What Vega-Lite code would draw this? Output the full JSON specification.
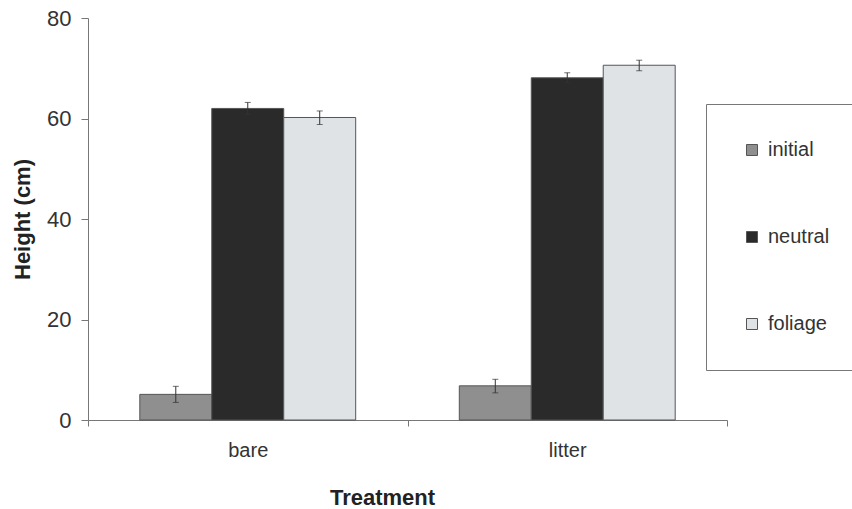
{
  "$schema": "https://vega.github.io/schema/vega-lite/v6.json",
  "width": 639,
  "height": 402,
  "autosize": "none",
  "padding": {"left": 88, "top": 18, "right": 125, "bottom": 89},
  "background": "white",
  "config": {
    "view": {"stroke": null},
    "font": "Liberation Sans",
    "axis": {"domainColor": "#777777", "tickColor": "#777777", "grid": false, "labelColor": "#333333", "titleColor": "#222222"}
  },
  "data": {
    "values": [
      {"Treatment": "bare", "Group": "initial", "Height": 5.1, "lo": 3.5, "hi": 6.7},
      {"Treatment": "bare", "Group": "neutral", "Height": 62.0, "lo": 60.8, "hi": 63.2},
      {"Treatment": "bare", "Group": "foliage", "Height": 60.2, "lo": 58.8, "hi": 61.5},
      {"Treatment": "litter", "Group": "initial", "Height": 6.8, "lo": 5.4, "hi": 8.1},
      {"Treatment": "litter", "Group": "neutral", "Height": 68.1, "lo": 67.1, "hi": 69.1},
      {"Treatment": "litter", "Group": "foliage", "Height": 70.6, "lo": 69.5, "hi": 71.6}
    ]
  },
  "encoding": {
    "x": {
      "field": "Treatment", "type": "nominal", "sort": ["bare", "litter"],
      "scale": {"paddingInner": 0, "paddingOuter": 0},
      "axis": {"labelAngle": 0, "labelFontSize": 20, "labelPadding": 14, "tickBand": "extent", "tickSize": 6, "title": "Treatment", "titleFontSize": 22, "titleFontWeight": "bold", "titlePadding": 27, "titleX": 294}
    },
    "xOffset": {"field": "Group", "type": "nominal", "sort": ["initial", "neutral", "foliage"], "scale": {"paddingInner": 0, "paddingOuter": 0.72}}
  },
  "layer": [
    {
      "mark": {"type": "bar", "stroke": "#555555", "strokeWidth": 1},
      "encoding": {
        "y": {
          "field": "Height", "type": "quantitative",
          "scale": {"domain": [0, 80]},
          "axis": {"values": [0, 20, 40, 60, 80], "labelFontSize": 22, "labelPadding": 10, "tickSize": 7, "title": "Height (cm)", "titleFontSize": 22, "titleFontWeight": "bold", "titlePadding": 12}
        },
        "fill": {
          "field": "Group", "type": "nominal", "sort": ["initial", "neutral", "foliage"],
          "scale": {"domain": ["initial", "neutral", "foliage"], "range": ["#8f8f8f", "#2a2a2a", "#dfe3e6"]},
          "legend": {
            "orient": "none", "legendX": 618, "legendY": 86, "title": null,
            "strokeColor": "#777777", "padding": 36, "rowPadding": 67,
            "symbolType": "square", "symbolSize": 121, "symbolStrokeColor": "#555555", "symbolStrokeWidth": 1,
            "labelFontSize": 20, "labelColor": "#333333", "labelOffset": 6
          }
        }
      }
    },
    {
      "mark": {"type": "rule", "color": "#333333", "strokeWidth": 1},
      "encoding": {
        "y": {"field": "lo", "type": "quantitative"},
        "y2": {"field": "hi"}
      }
    },
    {
      "mark": {"type": "tick", "color": "#333333", "thickness": 1, "size": 6},
      "encoding": {"y": {"field": "lo", "type": "quantitative"}}
    },
    {
      "mark": {"type": "tick", "color": "#333333", "thickness": 1, "size": 6},
      "encoding": {"y": {"field": "hi", "type": "quantitative"}}
    }
  ]
}
